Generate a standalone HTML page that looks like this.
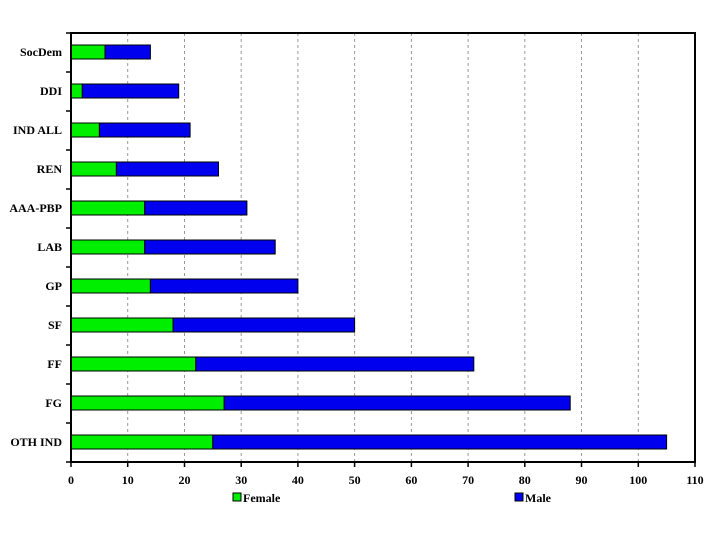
<!DOCTYPE html><html><head><style>body{margin:0;background:#fff}svg text{font-family:"Liberation Serif",serif;font-weight:bold;font-size:12px}</style></head><body>
<svg width="720" height="540" viewBox="0 0 720 540" xmlns="http://www.w3.org/2000/svg">
<g stroke="#999" stroke-dasharray="3,3" stroke-width="1">
<line x1="127.7" y1="33" x2="127.7" y2="462"/><line x1="184.5" y1="33" x2="184.5" y2="462"/><line x1="241.2" y1="33" x2="241.2" y2="462"/><line x1="297.9" y1="33" x2="297.9" y2="462"/><line x1="354.6" y1="33" x2="354.6" y2="462"/><line x1="411.4" y1="33" x2="411.4" y2="462"/><line x1="468.1" y1="33" x2="468.1" y2="462"/><line x1="524.8" y1="33" x2="524.8" y2="462"/><line x1="581.5" y1="33" x2="581.5" y2="462"/><line x1="638.3" y1="33" x2="638.3" y2="462"/>
</g>
<g stroke="#000" stroke-width="1">
<rect x="71" y="45" width="34" height="14" fill="#00ee00"/><rect x="105" y="45" width="45.4" height="14" fill="#0000ee"/>
<rect x="71" y="84" width="11.3" height="14" fill="#00ee00"/><rect x="82.3" y="84" width="96.4" height="14" fill="#0000ee"/>
<rect x="71" y="123" width="28.4" height="14" fill="#00ee00"/><rect x="99.4" y="123" width="90.7" height="14" fill="#0000ee"/>
<rect x="71" y="162" width="45.4" height="14" fill="#00ee00"/><rect x="116.4" y="162" width="102.1" height="14" fill="#0000ee"/>
<rect x="71" y="201" width="73.7" height="14" fill="#00ee00"/><rect x="144.7" y="201" width="102.2" height="14" fill="#0000ee"/>
<rect x="71" y="240" width="73.7" height="14" fill="#00ee00"/><rect x="144.7" y="240" width="130.5" height="14" fill="#0000ee"/>
<rect x="71" y="279" width="79.4" height="14" fill="#00ee00"/><rect x="150.4" y="279" width="147.5" height="14" fill="#0000ee"/>
<rect x="71" y="318" width="102.1" height="14" fill="#00ee00"/><rect x="173.1" y="318" width="181.5" height="14" fill="#0000ee"/>
<rect x="71" y="357" width="124.8" height="14" fill="#00ee00"/><rect x="195.8" y="357" width="278" height="14" fill="#0000ee"/>
<rect x="71" y="396" width="153.2" height="14" fill="#00ee00"/><rect x="224.2" y="396" width="346" height="14" fill="#0000ee"/>
<rect x="71" y="435" width="141.8" height="14" fill="#00ee00"/><rect x="212.8" y="435" width="453.8" height="14" fill="#0000ee"/>
</g>
<rect x="71" y="33" width="624" height="429" fill="none" stroke="#000" stroke-width="2"/>
<g stroke="#000" stroke-width="1.5">
<line x1="66" y1="33" x2="71" y2="33"/><line x1="66" y1="72" x2="71" y2="72"/><line x1="66" y1="111" x2="71" y2="111"/><line x1="66" y1="150" x2="71" y2="150"/><line x1="66" y1="189" x2="71" y2="189"/><line x1="66" y1="228" x2="71" y2="228"/><line x1="66" y1="267" x2="71" y2="267"/><line x1="66" y1="306" x2="71" y2="306"/><line x1="66" y1="345" x2="71" y2="345"/><line x1="66" y1="384" x2="71" y2="384"/><line x1="66" y1="423" x2="71" y2="423"/><line x1="66" y1="462" x2="71" y2="462"/>
<line x1="71" y1="462" x2="71" y2="467"/><line x1="127.7" y1="462" x2="127.7" y2="467"/><line x1="184.5" y1="462" x2="184.5" y2="467"/><line x1="241.2" y1="462" x2="241.2" y2="467"/><line x1="297.9" y1="462" x2="297.9" y2="467"/><line x1="354.6" y1="462" x2="354.6" y2="467"/><line x1="411.4" y1="462" x2="411.4" y2="467"/><line x1="468.1" y1="462" x2="468.1" y2="467"/><line x1="524.8" y1="462" x2="524.8" y2="467"/><line x1="581.5" y1="462" x2="581.5" y2="467"/><line x1="638.3" y1="462" x2="638.3" y2="467"/><line x1="695" y1="462" x2="695" y2="467"/>
</g>
<g text-anchor="end">
<text x="62" y="56">SocDem</text><text x="62" y="95">DDI</text><text x="62" y="134">IND ALL</text><text x="62" y="173">REN</text><text x="62" y="212">AAA-PBP</text><text x="62" y="251">LAB</text><text x="62" y="290">GP</text><text x="62" y="329">SF</text><text x="62" y="368">FF</text><text x="62" y="407">FG</text><text x="62" y="446">OTH IND</text>
</g>
<g text-anchor="middle">
<text x="71" y="484">0</text><text x="127.7" y="484">10</text><text x="184.5" y="484">20</text><text x="241.2" y="484">30</text><text x="297.9" y="484">40</text><text x="354.6" y="484">50</text><text x="411.4" y="484">60</text><text x="468.1" y="484">70</text><text x="524.8" y="484">80</text><text x="581.5" y="484">90</text><text x="638.3" y="484">100</text><text x="695" y="484">110</text>
</g>
<rect x="233" y="493" width="8" height="8" fill="#00ee00" stroke="#000"/><text x="243" y="502">Female</text>
<rect x="515" y="493" width="8" height="8" fill="#0000ee" stroke="#000"/><text x="525" y="502">Male</text>
</svg></body></html>
